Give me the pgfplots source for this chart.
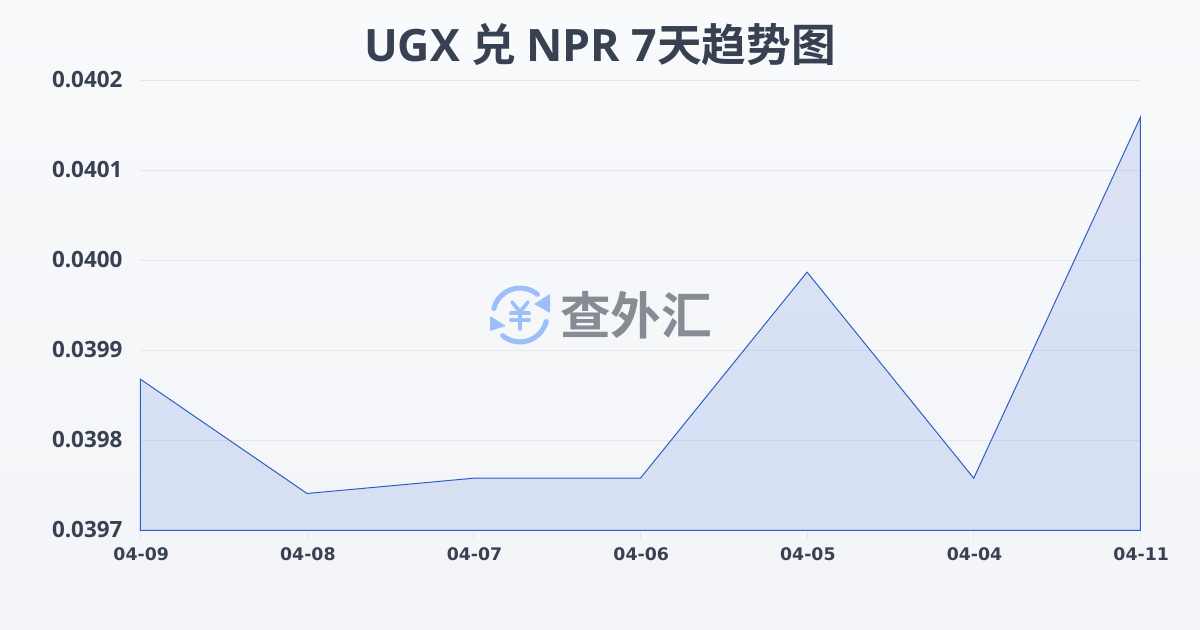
\documentclass[border=0pt]{standalone}
\usepackage{pgfplots}
\pgfplotsset{compat=1.18}
\usepackage{fontspec}
\setmainfont{DejaVu Sans}
\newfontfamily\nsans{Open Sans}
\newfontfamily\cjk{Noto Sans CJK SC}[BoldFont={Noto Sans CJK SC Bold}]
\definecolor{txt}{HTML}{374151}
\definecolor{ln}{HTML}{2F5FC4}
\definecolor{fl}{HTML}{3564D8}
\definecolor{grd}{HTML}{E5E7EB}
\definecolor{bgt}{HTML}{F9FAFC}
\definecolor{bgb}{HTML}{F2F4F7}
\definecolor{logo}{HTML}{9DBFF9}
\definecolor{wm}{HTML}{878B93}
\pgfplotstableread{
x y
0 0.039868
1 0.039741
2 0.039758
3 0.039758
4 0.039987
5 0.039758
6 0.040159
}\datatable
\begin{document}
\begin{tikzpicture}[x=0.75pt,y=-0.75pt]
\shade[top color=bgt,bottom color=bgb] (0,0) rectangle (1200,630);
\path[use as bounding box] (0,0) rectangle (1200,630);
\node[text=txt,font=\fontsize{33.5pt}{40pt}\selectfont,anchor=center] at (600,45)
  {\nsans\bfseries UGX \cjk\bfseries 兑 \nsans\bfseries NPR 7\cjk\bfseries 天趋势图};
\begin{axis}[at={(105.3pt,-397.8pt)},anchor=south west,
  width=750pt,height=337.5pt,scale only axis,
  xmin=0,xmax=6,ymin=0.0397,ymax=0.0402,
  scaled y ticks=false,
  axis line style={draw=none},
  xtick pos=bottom,ytick pos=left,
  xtick={0,...,6},xticklabels={04-09,04-08,04-07,04-06,04-05,04-04,04-11},
  ytick={0.0397,0.0398,0.0399,0.04,0.0401,0.0402},
  yticklabels={0.0397,0.0398,0.0399,0.0400,0.0401,0.0402},
  ymajorgrids,grid style={draw=grd,line width=0.75pt},
  tick style={draw=grd,line width=0.75pt},
  tick align=outside,major tick length=7.5pt,
  ytick style={draw=none},
  xticklabel style={text=txt,font=\fontsize{13pt}{14pt}\selectfont\bfseries,yshift=-2pt,xshift=0.6pt},
  yticklabel style={text=txt,font=\nsans\bfseries\fontsize{16.8pt}{18pt}\selectfont,xshift=-2.5pt,yshift=0.7pt},
  clip=false,axis on top=false]
\addplot[draw=ln,line width=0.75pt,fill=fl,fill opacity=0.15] table[x=x,y=y]{\datatable} -- (axis cs:6,0.0397) -- (axis cs:0,0.0397) -- cycle;
\end{axis}
% watermark
\begin{scope}[shift={(520,315)}]
\draw[logo,line width=3.8pt,line cap=round] (-26.2,-6.5) arc[start angle=-166,end angle=-50,radius=27];
\draw[logo,line width=3.8pt,line cap=round] (26.2,6.5) arc[start angle=14,end angle=130,radius=27];
\fill[logo,rounded corners=0.5pt] (30,-21) -- (30,-2) -- (14,-11) -- cycle;
\fill[logo,rounded corners=0.5pt] (-30,1) -- (-30,16) -- (-14,11) -- cycle;
\draw[logo,line width=2.8pt,line cap=round] (-8,-13) -- (0,-3) -- (8,-13);
\draw[logo,line width=2.8pt,line cap=round] (0,-3) -- (0,14);
\draw[logo,line width=2.8pt,line cap=round] (-9,-2) -- (9,-2);
\draw[logo,line width=2.8pt,line cap=round] (-9,5) -- (9,5);
\end{scope}
\node[text=wm,font=\cjk\bfseries\fontsize{38pt}{40pt}\selectfont,anchor=center] at (636,315) {查外汇};
\end{tikzpicture}
\end{document}
